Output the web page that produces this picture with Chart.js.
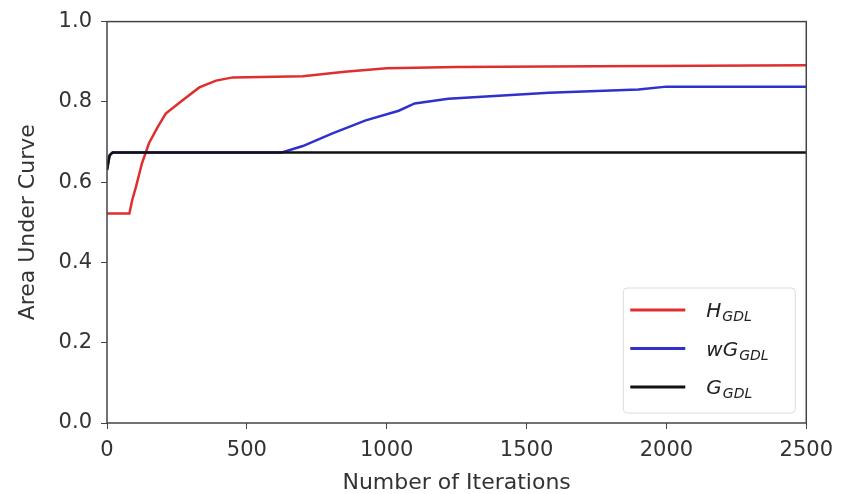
<!DOCTYPE html>
<html>
<head>
<meta charset="utf-8">
<script src="https://cdn.jsdelivr.net/npm/chart.js@4.4.0/dist/chart.umd.min.js"></script>
<style>
  html, body { margin: 0; padding: 0; background: #fff; }
  #wrap { width: 842px; height: 494px; }
</style>
</head>
<body>
<div id="wrap"><canvas id="aucChart"></canvas></div>
<script>
// Values (iteration, AUC)
const hIters  = [0, 80, 90, 103, 125, 150, 180, 210, 268, 330, 390, 450, 700, 850, 1000, 1250, 1750, 2500];
const hValues = [0.522, 0.522, 0.555, 0.587, 0.647, 0.697, 0.736, 0.771, 0.803, 0.836, 0.853, 0.861, 0.864, 0.875, 0.884, 0.887, 0.889, 0.891];

const wgIters  = [0, 8, 20, 625, 700, 804, 925, 1043, 1100, 1220, 1580, 1900, 2000, 2500];
const wgValues = [0.63, 0.665, 0.674, 0.674, 0.69, 0.721, 0.754, 0.778, 0.796, 0.808, 0.823, 0.831, 0.838, 0.838];

const gIters  = [0, 10, 20, 2500];
const gValues = [0.63, 0.668, 0.674, 0.674];

const xTicks = [0, 500, 1000, 1500, 2000, 2500];
const yTicks = [0, 0.2, 0.4, 0.6, 0.8, 1.0];

const legendItems = [
    { main: 'H', sub: 'GDL', color: '#e02e2e' },
    { main: 'wG', sub: 'GDL', color: '#3030cc' },
    { main: 'G', sub: 'GDL', color: '#111111' }
];

function toPoints(xs, ys) {
    return xs.map((x, i) => ({ x: x, y: ys[i] }));
}

// frame round the plot area (all four spines)
const framePlugin = {
    id: 'frame',
    afterDatasetsDraw(chart) {
        const a = chart.chartArea;
        const ctx = chart.ctx;
        ctx.save();
        ctx.strokeStyle = '#444';
        ctx.lineWidth = 1.5;
        ctx.strokeRect(a.left, a.top, a.right - a.left, a.bottom - a.top);
        ctx.restore();
    }
};

// legend with subscripts, lower right inside the axes
const subLegend = {
    id: 'subLegend',
    afterDraw(chart) {
        const a = chart.chartArea;
        const ctx = chart.ctx;
        const boxW = 172, boxH = 125;
        const bx = a.right - 11 - boxW;
        const by = a.bottom - 10 - boxH;
        ctx.save();
        ctx.fillStyle = 'rgba(255,255,255,0.85)';
        ctx.strokeStyle = '#dcdcdc';
        ctx.lineWidth = 1;
        ctx.beginPath();
        ctx.roundRect(bx, by, boxW, boxH, 4);
        ctx.fill();
        ctx.stroke();
        legendItems.forEach((item, i) => {
            const cy = by + 22 + i * 38.5;
            ctx.strokeStyle = item.color;
            ctx.lineWidth = 3;
            ctx.beginPath();
            ctx.moveTo(bx + 7, cy);
            ctx.lineTo(bx + 62, cy);
            ctx.stroke();
            ctx.fillStyle = '#222';
            ctx.textBaseline = 'alphabetic';
            ctx.font = 'italic 20px "DejaVu Sans"';
            ctx.fillText(item.main, bx + 83, cy + 7);
            const w = ctx.measureText(item.main).width;
            ctx.font = 'italic 14px "DejaVu Sans"';
            ctx.fillText(item.sub, bx + 83 + w + 1, cy + 11);
        });
        ctx.restore();
    }
};

document.addEventListener('DOMContentLoaded', function() {
    const ctx = document.getElementById('aucChart').getContext('2d');
    window.aucChart = new Chart(ctx, {
        type: 'line',
        data: {
            datasets: [
                {
                    label: 'H_GDL',
                    data: toPoints(hIters, hValues),
                    borderColor: legendItems[0].color,
                    borderWidth: 2.5,
                    order: 3
                },
                {
                    label: 'wG_GDL',
                    data: toPoints(wgIters, wgValues),
                    borderColor: legendItems[1].color,
                    borderWidth: 2.5,
                    order: 2
                },
                {
                    label: 'G_GDL',
                    data: toPoints(gIters, gValues),
                    borderColor: legendItems[2].color,
                    borderWidth: 2.5,
                    order: 1
                }
            ]
        },
        options: {
            responsive: true,
            maintainAspectRatio: false,
            animation: false,
            elements: { point: { radius: 0 }, line: { tension: 0 } },
            layout: { padding: { left: 0, top: 21, right: 34, bottom: 0 } },
            plugins: {
                legend: { display: false },
                tooltip: { enabled: false }
            },
            scales: {
                x: {
                    type: 'linear',
                    min: 0,
                    max: 2500,
                    afterBuildTicks: scale => { scale.ticks = xTicks.map(v => ({ value: v })); },
                    afterFit: scale => { scale.height = 71; },
                    grid: { drawOnChartArea: false, drawTicks: true, tickLength: 6, color: '#444' },
                    border: { display: false },
                    ticks: { color: '#333', font: { family: 'DejaVu Sans', size: 21 }, padding: 9,
                             maxRotation: 0, callback: v => String(v) },
                    title: { display: true, text: 'Number of Iterations', color: '#333',
                             font: { family: 'DejaVu Sans', size: 22, lineHeight: 1 },
                             padding: { top: 0, bottom: 0 } }
                },
                y: {
                    min: 0,
                    max: 1,
                    afterBuildTicks: scale => { scale.ticks = yTicks.map(v => ({ value: v })); },
                    afterFit: scale => { scale.width = 107; },
                    grid: { drawOnChartArea: false, drawTicks: true, tickLength: 6, color: '#444' },
                    border: { display: false },
                    ticks: { color: '#333', font: { family: 'DejaVu Sans', size: 21 }, padding: 9,
                             callback: v => v.toFixed(1) },
                    title: { display: true, text: 'Area Under Curve', color: '#333',
                             font: { family: 'DejaVu Sans', size: 22, lineHeight: 1.2 },
                             padding: { top: 15, bottom: 0 } }
                }
            }
        },
        plugins: [framePlugin, subLegend]
    });
});
</script>
</body>
</html>
